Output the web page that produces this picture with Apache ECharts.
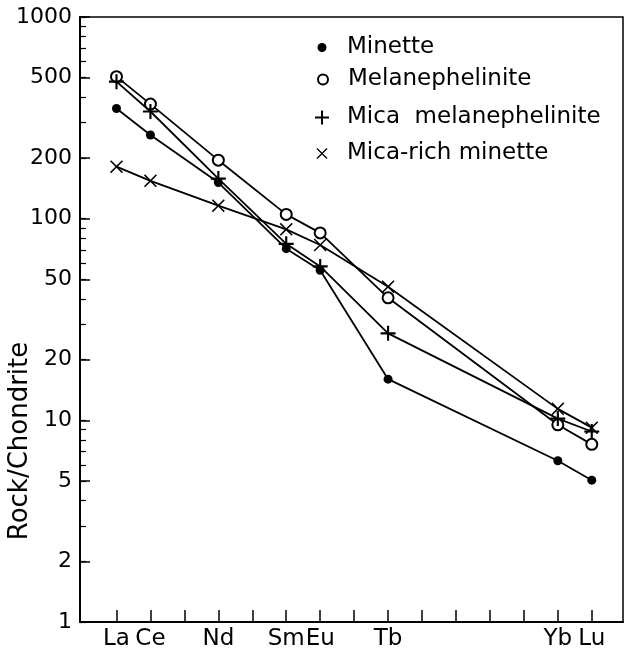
<!DOCTYPE html>
<html>
<head>
<meta charset="utf-8">
<title>REE chondrite plot</title>
<script src="https://cdn.jsdelivr.net/npm/echarts@6/dist/echarts.min.js"></script>
<style>
	html, body { margin: 0; padding: 0; background: #fff; }
	#reeChart { width: 624px; height: 654px; }
</style>
</head>
<body>
<div id="reeChart"></div>
<script>
	/* REE positions along the x axis (La..Lu) */
	var elements = ['La', 'Ce', 'Pr', 'Nd', 'Pm', 'Sm', 'Eu', 'Gd', 'Tb', 'Dy', 'Ho', 'Er', 'Tm', 'Yb', 'Lu'];
	var sampled = [0, 1, 3, 5, 6, 8, 13, 14];

	/* rock / chondrite values */
	var minette = [352, 260, 151, 71, 55.5, 16, 6.3, 5.05];
	var melanephelinite = [506, 370, 195, 105, 85, 40.5, 9.5, 7.6];
	var micaMelanephelinite = [478, 340, 158, 75, 58, 27, 10.2, 8.8];
	var micaRichMinette = [181, 154, 116, 88.5, 74, 46, 11.4, 9.2];

	var yLabels = [1, 2, 5, 10, 20, 50, 100, 200, 500, 1000];
	var yMinor = [1, 2, 3, 4, 5, 6, 7, 8, 9, 10, 20, 30, 40, 50, 60, 70, 80, 90, 100, 200, 300, 400, 500, 600, 700, 800, 900, 1000];

	var FONT = 'DejaVu Sans';
	var plusPath = 'path://M-1,-7H1V-1H7V1H1V7H-1V1H-7V-1H-1Z';
	var crossPath = 'path://M-6,-5L-5,-6L0,-1L5,-6L6,-5L1,0L6,5L5,6L0,1L-5,6L-6,5L-1,0Z';

	function pairs(vals) {
		return vals.map(function(v, i) {
			return [sampled[i], v];
		});
	}

	function makeSeries(name, vals, symbol, size) {
		return {
			name: name,
			type: 'line',
			data: pairs(vals),
			symbol: symbol,
			symbolSize: size,
			showSymbol: true,
			lineStyle: { color: '#000', width: 1.8 },
			itemStyle: { color: '#000', borderWidth: symbol === 'emptyCircle' ? 1.7 : 0 },
			emphasis: { disabled: true },
			animation: false
		};
	}

	// one legend per row so every icon can get its own size
	function makeLegend(name, icon, top, w) {
		return {
			data: [{ name: name, icon: icon }],
			orient: 'vertical',
			left: 317 - w / 2,
			top: top,
			itemWidth: w,
			itemHeight: w,
			itemGap: 0,
			selectedMode: false,
			itemStyle: { borderWidth: icon === 'emptyCircle' ? 1.6 : 0 },
			textStyle: {
				fontFamily: FONT,
				fontSize: 23,
				color: '#000',
				padding: [0, 0, 0, 20 - w / 2]
			}
		};
	}

	var reeOption = {
		backgroundColor: '#fff',
		animation: false,
		grid: {
			left: 80,
			right: 1,
			top: 17,
			bottom: 32,
			show: true,
			borderColor: '#000',
			borderWidth: 1.5
		},
		legend: [
			makeLegend('Minette', 'circle', 31, 9),
			makeLegend('Melanephelinite', 'emptyCircle', 63, 10),
			makeLegend('Mica  melanephelinite', plusPath, 101, 14),
			makeLegend('Mica-rich minette', crossPath, 137, 11)
		],
		xAxis: {
			type: 'value',
			min: -1.075,
			max: 14.92,
			axisLine: { onZero: false, lineStyle: { color: '#000', width: 2 } },
			axisTick: {
				inside: true,
				length: 12,
				customValues: elements.map(function(e, i) { return i; }),
				lineStyle: { color: '#000', width: 1.5 }
			},
			axisLabel: {
				customValues: sampled,
				formatter: function(v) { return elements[Math.round(v)]; },
				fontFamily: FONT,
				fontSize: 23,
				color: '#000',
				margin: 6
			},
			splitLine: { show: false }
		},
		yAxis: [{
			type: 'log',
			min: 1,
			max: 1000,
			axisLine: { show: true, onZero: false, lineStyle: { color: '#000', width: 2 } },
			axisTick: {
				inside: true,
				length: 10,
				customValues: yLabels,
				lineStyle: { color: '#000', width: 1.5 }
			},
			axisLabel: {
				customValues: yLabels,
				formatter: function(v) { return String(v); },
				fontFamily: FONT,
				fontSize: 22,
				color: '#000',
				margin: 8
			},
			splitLine: { show: false }
		}, {
			type: 'log',
			min: 1,
			max: 1000,
			position: 'left',
			axisLine: { show: false, onZero: false },
			axisTick: {
				inside: true,
				length: 6,
				customValues: yMinor,
				lineStyle: { color: '#000', width: 1.2 }
			},
			axisLabel: { show: false },
			splitLine: { show: false }
		}],
		graphic: [{
			type: 'text',
			x: 20,
			y: 441,
			rotation: Math.PI / 2,
			style: {
				text: 'Rock/Chondrite',
				fontFamily: FONT,
				fontSize: 26,
				fill: '#000',
				align: 'center',
				verticalAlign: 'middle'
			}
		}],
		series: [
			makeSeries('Minette', minette, 'circle', 9),
			makeSeries('Melanephelinite', melanephelinite, 'emptyCircle', 11),
			makeSeries('Mica  melanephelinite', micaMelanephelinite, plusPath, 15),
			makeSeries('Mica-rich minette', micaRichMinette, crossPath, 13)
		]
	};

	function setInit(id, option) {
		var chart = echarts.init(document.getElementById(id));
		chart.setOption(option);
		window.addEventListener('resize', function() {
			chart.resize();
		});
	}

	setInit('reeChart', reeOption);
</script>
</body>
</html>
